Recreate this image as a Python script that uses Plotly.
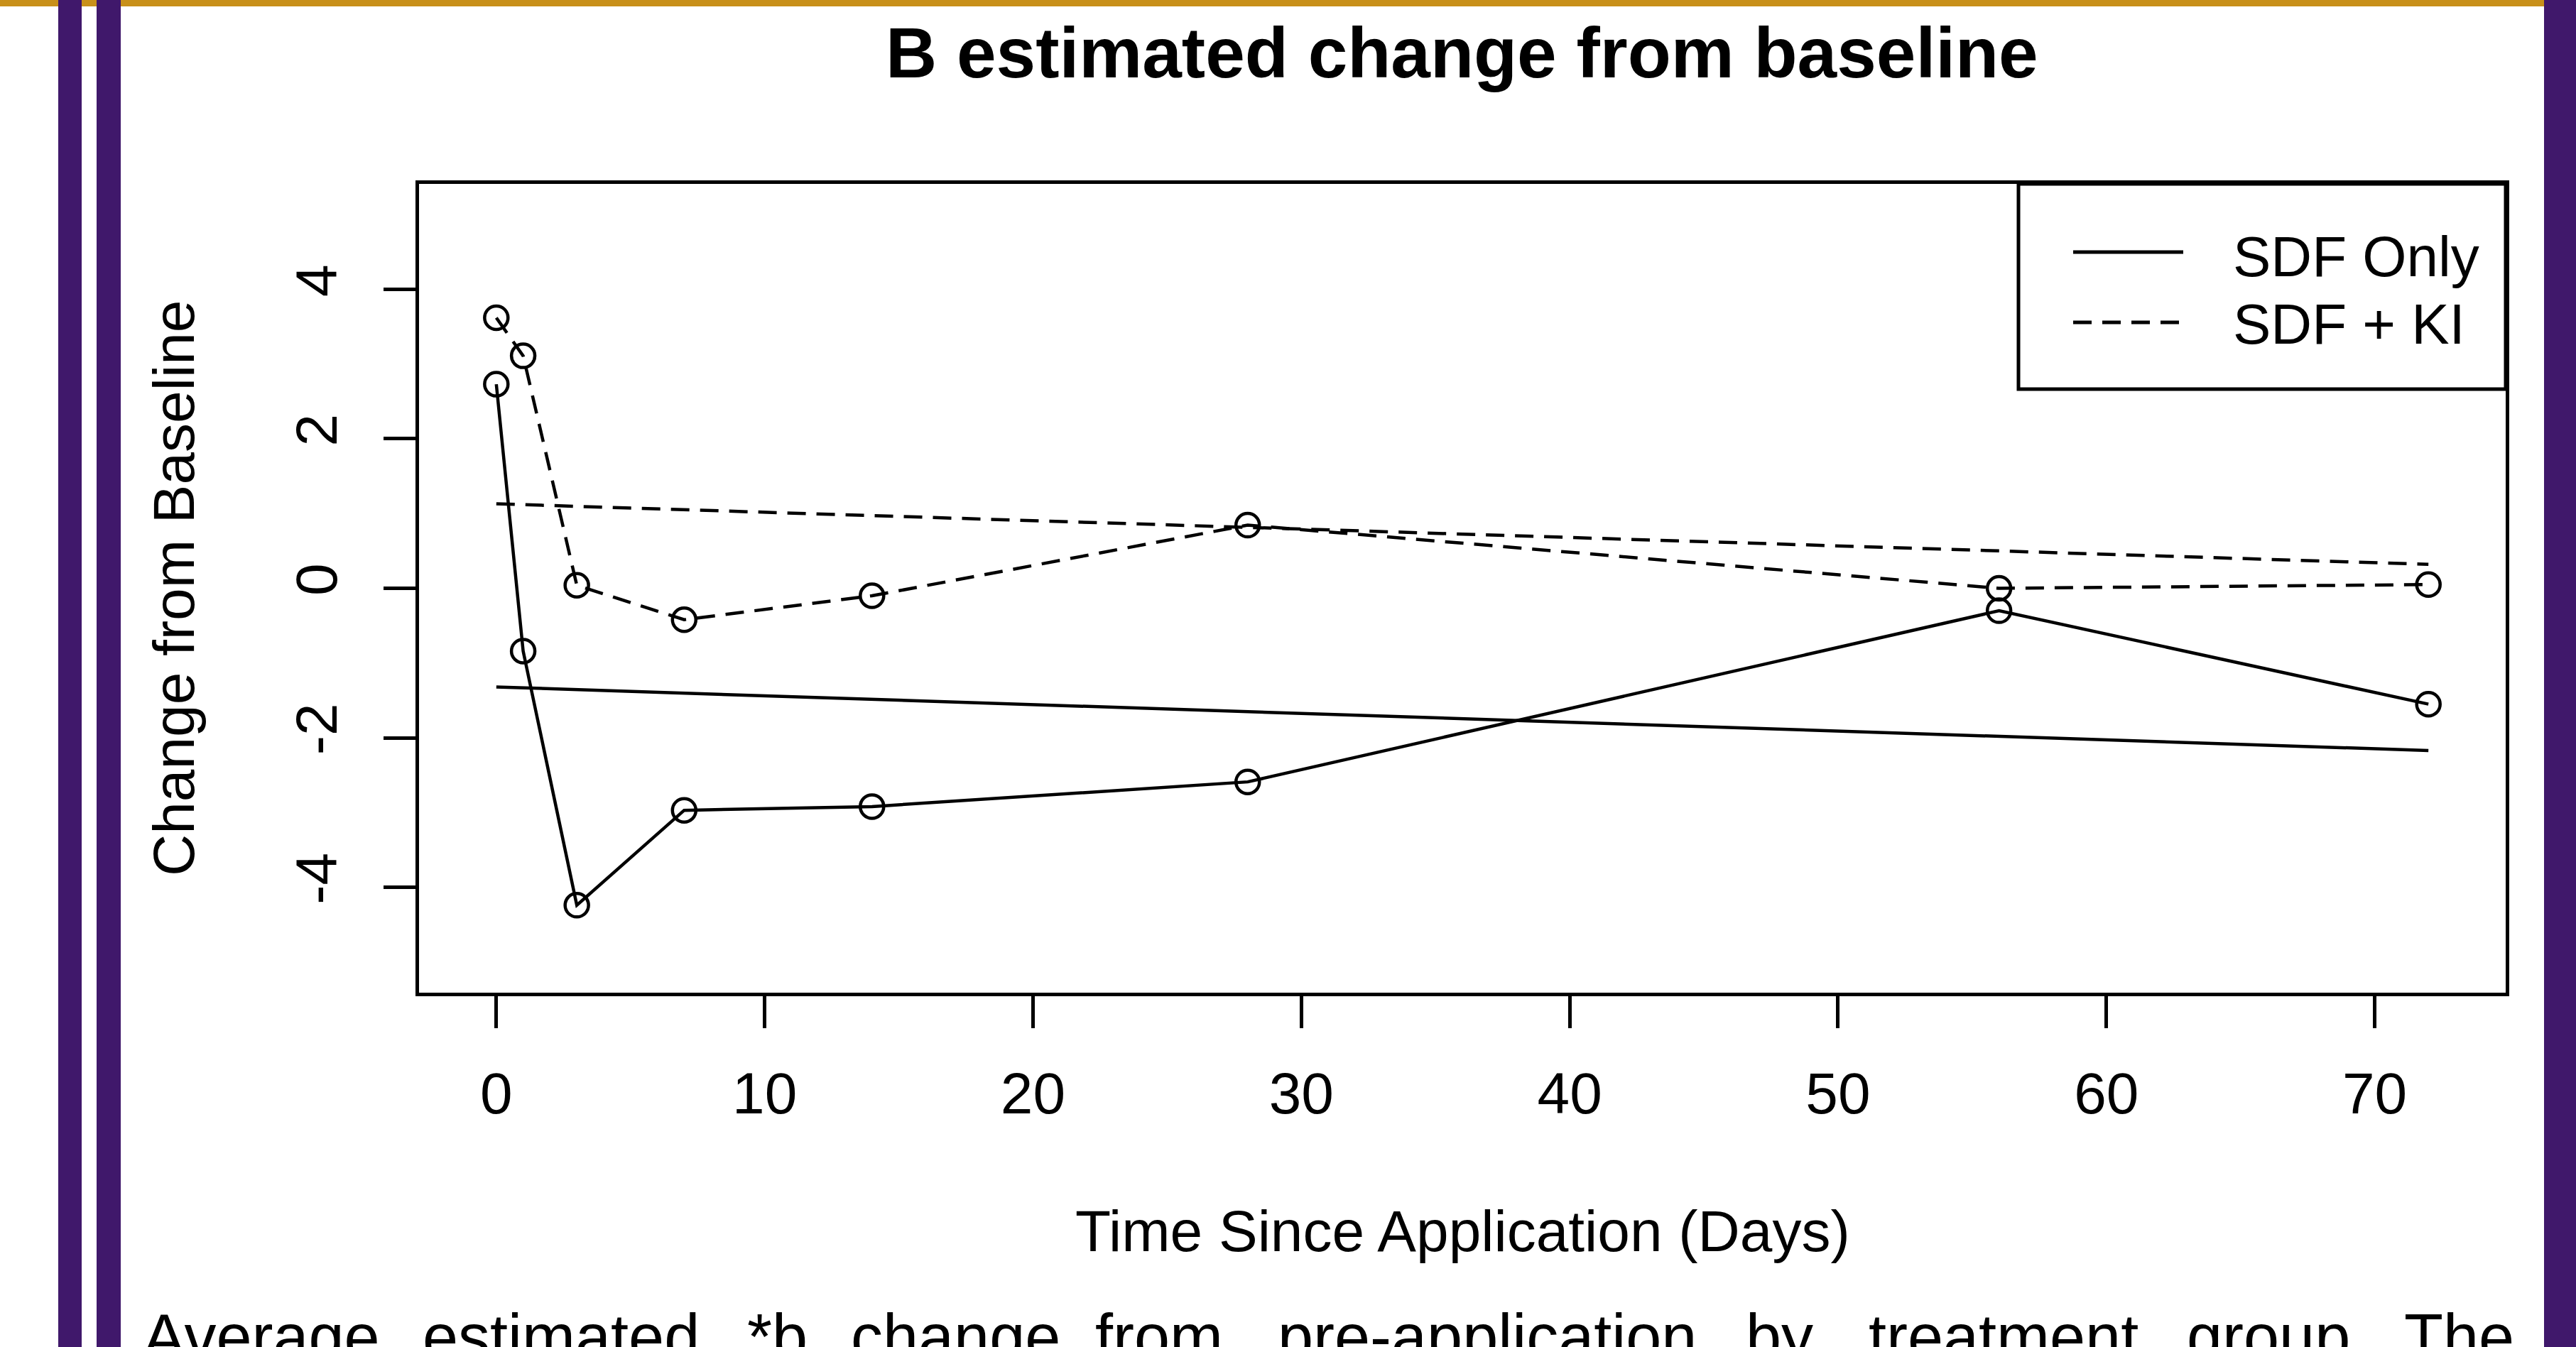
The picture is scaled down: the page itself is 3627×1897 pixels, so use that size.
import plotly.graph_objects as go

# ---------------- data ----------------
days = [0, 1, 3, 7, 14, 28, 56, 72]
sdf_only = [2.73, -0.84, -4.24, -2.97, -2.92, -2.59, -0.30, -1.55]
sdf_ki = [3.62, 3.11, 0.04, -0.42, -0.10, 0.845, 0.00, 0.05]

trend_days = [0, 72]
sdf_only_trend = [-1.32, -2.17]
sdf_ki_trend = [1.13, 0.32]

x_ticks = [0, 10, 20, 30, 40, 50, 60, 70]
y_ticks = [-4, -2, 0, 2, 4]
y_tick_labels = ["-4", "-2", "0", "2", "4"]

title_text = "B estimated change from baseline"
x_title = "Time Since Application (Days)"
y_title = "Change from Baseline"
legend_names = ["SDF Only", "SDF + KI"]
caption_words = ["Average", "estimated", "*b", "change", "from", "pre-application",
                 "by", "treatment", "group.", "The"]

# ---------------- layout helpers ----------------
W, H = 3627, 1897
FONT = "Liberation Sans, Arial, sans-serif"
DASH = "26px,15px"


def px(x):
    return x / W


def py(y):
    return 1 - y / H


fig = go.Figure()

# trend lines
fig.add_trace(go.Scatter(x=trend_days, y=sdf_only_trend, mode="lines",
                         line=dict(color="black", width=4.5), showlegend=False))
fig.add_trace(go.Scatter(x=trend_days, y=sdf_ki_trend, mode="lines",
                         line=dict(color="black", width=4.5, dash=DASH), showlegend=False))
# series
fig.add_trace(go.Scatter(x=days, y=sdf_only, mode="lines+markers", name=legend_names[0],
                         line=dict(color="black", width=4.5),
                         marker=dict(symbol="circle-open", size=33, color="black",
                                     line=dict(width=4.5, color="black")),
                         showlegend=False))
fig.add_trace(go.Scatter(x=days, y=sdf_ki, mode="lines+markers", name=legend_names[1],
                         line=dict(color="black", width=4.5, dash=DASH),
                         marker=dict(symbol="circle-open", size=33, color="black",
                                     line=dict(width=4.5, color="black")),
                         showlegend=False))

plot_l, plot_r, plot_t, plot_b = 590, 3528, 259, 1398

axis_common = dict(showgrid=False, zeroline=False, showline=True, mirror=True,
                   linecolor="black", linewidth=5, ticks="outside", ticklen=45,
                   tickwidth=4.5, tickcolor="black",
                   tickfont=dict(family=FONT, size=82, color="black"))

fig.update_layout(
    width=W, height=H, autosize=False,
    margin=dict(l=0, r=0, t=0, b=0),
    paper_bgcolor="white", plot_bgcolor="white",
    xaxis=dict(domain=[px(plot_l), px(plot_r)], range=[-2.88, 74.88],
               tickmode="array", tickvals=x_ticks, ticklabelstandoff=22,
               **axis_common),
    yaxis=dict(domain=[py(plot_b), py(plot_t)], range=[-5.41, 5.41],
               tickmode="array", tickvals=y_ticks, ticktext=y_tick_labels,
               tickangle=-90, ticklabelstandoff=33, **axis_common),
    showlegend=False,
)

shapes = []
# gold top bar
shapes.append(dict(type="rect", xref="paper", yref="paper", x0=0, x1=1,
                   y0=py(9), y1=1, fillcolor="#C8901A", line=dict(width=0), layer="above"))
# purple bars
for (a, b) in [(82, 115), (136, 170), (3582, 3627)]:
    shapes.append(dict(type="rect", xref="paper", yref="paper", x0=px(a), x1=px(b),
                       y0=0, y1=1, fillcolor="#40186B", line=dict(width=0), layer="above"))
# legend box
shapes.append(dict(type="rect", xref="paper", yref="paper", x0=px(2842), x1=px(plot_r),
                   y0=py(548), y1=py(plot_t), fillcolor="white",
                   line=dict(color="black", width=5), layer="above"))
shapes.append(dict(type="line", xref="paper", yref="paper", x0=px(2919), x1=px(3074),
                   y0=py(355), y1=py(355), line=dict(color="black", width=5), layer="above"))
shapes.append(dict(type="line", xref="paper", yref="paper", x0=px(2919), x1=px(3074),
                   y0=py(454), y1=py(454), line=dict(color="black", width=5, dash=DASH),
                   layer="above"))
fig.update_layout(shapes=shapes)

ann = []
ann.append(dict(text=f"<b>{title_text}</b>", x=px(2058), y=py(74), xref="paper", yref="paper",
                xanchor="center", yanchor="middle", showarrow=False,
                font=dict(family=FONT, size=100, color="black")))
ann.append(dict(text=x_title, x=px(2059), y=py(1733), xref="paper", yref="paper",
                xanchor="center", yanchor="middle", showarrow=False,
                font=dict(family=FONT, size=82, color="black")))
ann.append(dict(text=y_title, x=px(244), y=py(829), xref="paper", yref="paper",
                xanchor="center", yanchor="middle", showarrow=False, textangle=-90,
                font=dict(family=FONT, size=82, color="black")))
for name, yy in zip(legend_names, [362, 457]):
    ann.append(dict(text=name, x=px(3142), y=py(yy), xref="paper", yref="paper",
                    xanchor="left", yanchor="middle", showarrow=False,
                    font=dict(family=FONT, size=80, color="black")))
caption_x = [199, 593, 1050, 1196, 1540, 1797, 2456, 2629, 3077, 3383]
for word, xx in zip(caption_words, caption_x):
    ann.append(dict(text=word, x=px(xx), y=py(1883), xref="paper", yref="paper",
                    xanchor="left", yanchor="middle", showarrow=False,
                    font=dict(family=FONT, size=90, color="black")))
fig.update_layout(annotations=ann)

fig.write_html("out.html")
